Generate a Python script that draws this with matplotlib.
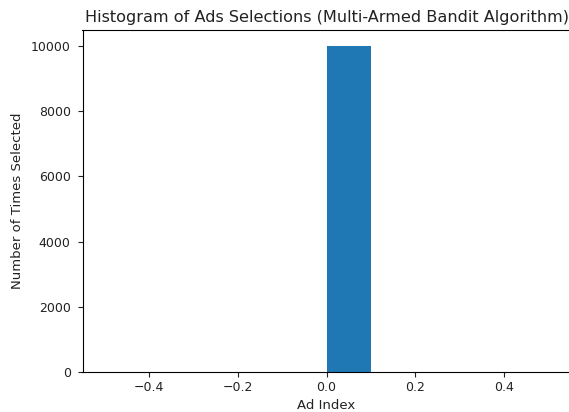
import matplotlib
matplotlib.use("Agg")
import matplotlib.pyplot as plt

# Ad chosen by the bandit and how many times it was selected
ad_index = [0]
times_selected = [10000]

fig = plt.figure(figsize=(5.69, 4.12), dpi=100)
ax = fig.add_axes([82.5 / 569, 1 - 371.7 / 412, (570.7 - 82.5) / 569, (371.7 - 30) / 412])

ax.hist(ad_index, weights=times_selected, color="#1f77b4")
ax.set_title("Histogram of Ads Selections (Multi-Armed Bandit Algorithm)", fontsize=11.6, color="#222222")
ax.set_xlabel("Ad Index", fontsize=9.5, color="#222222", labelpad=3)
ax.set_ylabel("Number of Times Selected", fontsize=9.5, color="#222222", labelpad=5)
ax.tick_params(labelsize=9, colors="#222222")
ax.tick_params(axis="y", pad=5)

fig.savefig("out.png", dpi=100)
